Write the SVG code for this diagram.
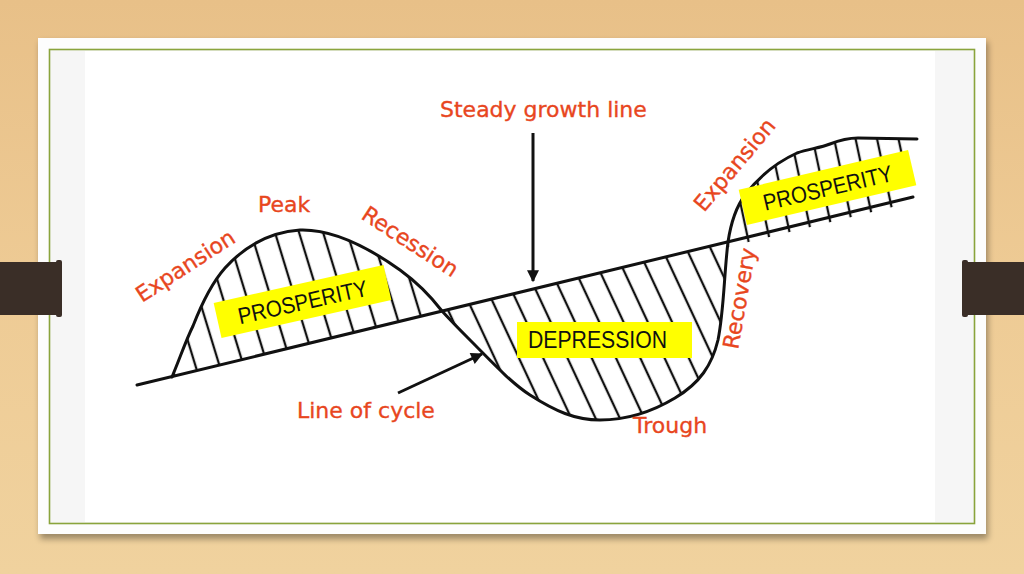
<svg xmlns="http://www.w3.org/2000/svg" width="1024" height="574" viewBox="0 0 1024 574">
<style>
.lbl{font-family:"DejaVu Sans","Liberation Sans",sans-serif;font-size:22px;fill:#e8461e;stroke:#e8461e;stroke-width:0.35}
.box{fill:#ffff00}
.boxt{font-family:"Liberation Sans","DejaVu Sans",sans-serif;font-size:23px;fill:#111;text-anchor:middle}
.ink{fill:none;stroke:#111;stroke-width:3;stroke-linecap:round;stroke-linejoin:round}
.hl{stroke:#111;stroke-width:2.3}
</style>
<defs>
<linearGradient id="wood" x1="0" y1="0" x2="0" y2="1">
<stop offset="0" stop-color="#e8c088"/>
<stop offset="0.5" stop-color="#eecb95"/>
<stop offset="1" stop-color="#f0d29e"/>
</linearGradient>
<filter id="sh" x="-5%" y="-5%" width="110%" height="115%">
<feGaussianBlur stdDeviation="3"/>
</filter>
<pattern id="hL" patternUnits="userSpaceOnUse" width="23" height="40" patternTransform="rotate(-17)">
<line x1="11" y1="0" x2="11" y2="40" class="hl"/>
</pattern>
<pattern id="hD" patternUnits="userSpaceOnUse" width="22" height="40" patternTransform="rotate(-25)">
<line x1="11" y1="0" x2="11" y2="40" class="hl"/>
</pattern>
<pattern id="hR" patternUnits="userSpaceOnUse" width="21" height="40" patternTransform="rotate(-12)">
<line x1="10" y1="0" x2="10" y2="40" class="hl"/>
</pattern>
<marker id="ah" viewBox="0 0 10 10" refX="9" refY="5" markerWidth="5.5" markerHeight="4" markerUnits="strokeWidth" orient="auto">
<path d="M0,0 L10,5 L0,10 Z" fill="#111"/>
</marker>
</defs>

<!-- background -->
<rect x="0" y="0" width="1024" height="574" fill="url(#wood)"/>
<rect x="40" y="42" width="948" height="497" fill="#000" opacity="0.35" filter="url(#sh)"/>
<rect x="38" y="38" width="948" height="496" fill="#fdfdfd"/>
<rect x="49.5" y="49.5" width="925" height="474" fill="#f6f6f6" stroke="#8aa43c" stroke-width="1.6"/>
<rect x="85" y="51" width="850" height="471" fill="#ffffff"/>

<!-- binder bars -->
<g id="bar-left">
<rect x="0" y="262" width="60" height="53" fill="#3a2e27"/>
<rect x="56" y="260" width="6" height="57" rx="2" fill="#3a2e27"/>
</g>
<g id="bar-right">
<rect x="964" y="262" width="60" height="53" fill="#3a2e27"/>
<rect x="962" y="260" width="6" height="57" rx="2" fill="#3a2e27"/>
</g>

<!-- hatching -->
<g id="hatching">
<path d="M172,377 C180,358 186,340 193,326 C200,308 210,285 225,268 C245,246 270,232 300,230 C330,229 365,245 400,270 C418,283 432,298 442,311 Z" fill="url(#hL)"/>
<path d="M442,311 C452,322 460,330 470,340 C490,360 510,382 530,395 C555,411 575,420 600,420 C630,420 655,410 675,398 C700,383 712,365 718,340 C724,310 724,275 728,242 Z" fill="url(#hD)"/>
<path d="M728,242 C731,222 736,207 745,195 C758,178 775,163 797,153 C808,149 820,148 830,144 C840,140 848,138 858,138 L905,139 L905,204 L728,247 Z" fill="url(#hR)"/>
</g>

<!-- main lines -->
<g id="connectors">
<line id="steady-line" x1="137" y1="385" x2="913" y2="197" class="ink"/>
<path id="cycle-line" class="ink" d="M172,377 C180,358 186,340 193,326 C200,308 210,285 225,268 C245,246 270,232 300,230 C330,229 365,245 400,270 C418,283 432,298 442,311 C452,322 460,330 470,340 C490,360 510,382 530,395 C555,411 575,420 600,420 C630,420 655,410 675,398 C700,383 712,365 718,340 C724,310 724,275 728,242 C731,222 736,207 745,195 C758,178 775,163 797,153 C808,149 820,148 830,144 C840,140 848,138 858,138 L917,139"/>
<line x1="533" y1="133" x2="533" y2="281" stroke="#111" stroke-width="3" marker-end="url(#ah)"/>
<line x1="398" y1="393" x2="482" y2="354" stroke="#111" stroke-width="3" marker-end="url(#ah)"/>
</g>

<!-- yellow labels -->
<g id="prosperity-left" transform="translate(302.5,301.5) rotate(-12.6)">
<rect class="box" x="-87" y="-18" width="174" height="36"/>
<text class="boxt" x="0" y="8.5" textLength="132" lengthAdjust="spacingAndGlyphs">PROSPERITY</text>
</g>
<g id="depression">
<rect class="box" x="517" y="322" width="175" height="36"/>
<text class="boxt" x="597.5" y="348" textLength="139" lengthAdjust="spacingAndGlyphs">DEPRESSION</text>
</g>
<g id="prosperity-right" transform="translate(827.5,187.5) rotate(-13.2)">
<rect class="box" x="-87" y="-18" width="174" height="36"/>
<text class="boxt" x="0" y="8.5" textLength="132" lengthAdjust="spacingAndGlyphs">PROSPERITY</text>
</g>

<!-- red labels -->
<g id="labels">
<text class="lbl" x="440" y="117">Steady growth line</text>
<text class="lbl" x="258" y="212">Peak</text>
<text class="lbl" transform="translate(142,303) rotate(-33)">Expansion</text>
<text class="lbl" transform="translate(360,218) rotate(33)">Recession</text>
<text class="lbl" transform="translate(704,213) rotate(-50)">Expansion</text>
<text class="lbl" transform="translate(738,350) rotate(-80)">Recovery</text>
<text class="lbl" x="297" y="418">Line of cycle</text>
<text class="lbl" x="633" y="433">Trough</text>
</g>
</svg>
